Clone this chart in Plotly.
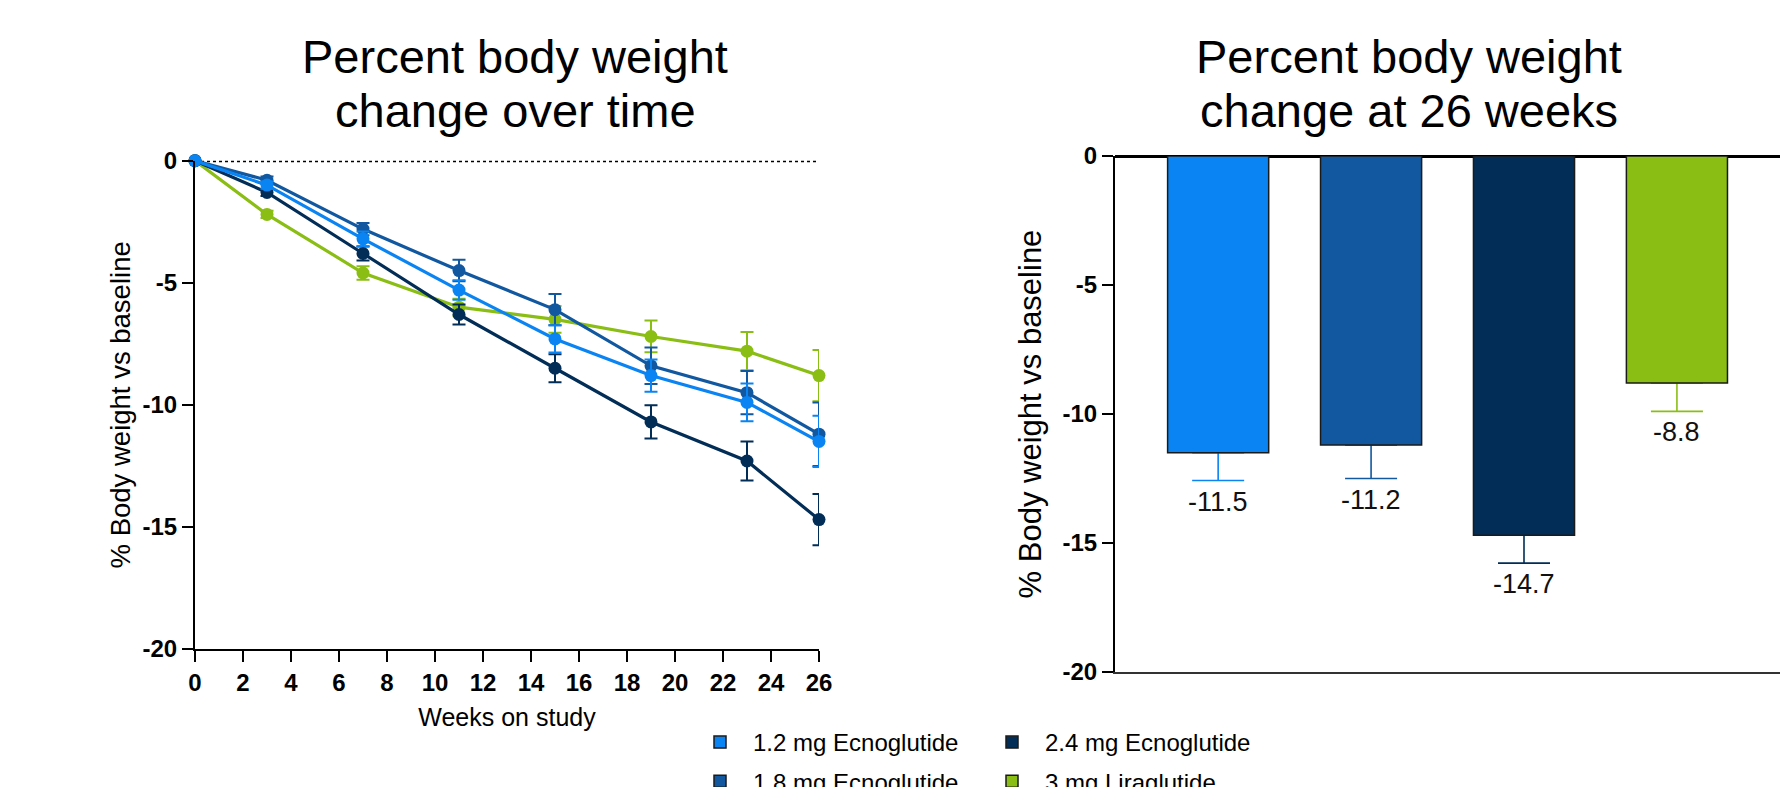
import plotly.graph_objects as go

# ---------------- data ----------------
weeks = [0, 3, 7, 11, 15, 19, 23, 26]

series_names = ["1.2 mg Ecnoglutide", "1.8 mg Ecnoglutide",
                "2.4 mg Ecnoglutide", "3 mg Liraglutide"]
series_colors = ["#0A84F2", "#1158A0", "#022D57", "#8ABE14"]

change_12 = [0, -1.0, -3.2, -5.3, -7.3, -8.8, -9.9, -11.5]
change_18 = [0, -0.8, -2.8, -4.5, -6.1, -8.4, -9.5, -11.2]
change_24 = [0, -1.3, -3.8, -6.3, -8.5, -10.7, -12.3, -14.7]
change_lira = [0, -2.2, -4.6, -6.0, -6.5, -7.2, -7.8, -8.8]

se_12 = [0, 0.15, 0.3, 0.4, 0.56, 0.66, 0.77, 1.05]
se_18 = [0, 0.15, 0.25, 0.44, 0.64, 0.75, 0.89, 1.3]
se_24 = [0, 0.15, 0.29, 0.41, 0.57, 0.68, 0.8, 1.05]
se_lira = [0, 0.15, 0.28, 0.35, 0.55, 0.65, 0.78, 1.05]

bar_means = [-11.5, -11.2, -14.7, -8.8]
bar_se = [1.08, 1.3, 1.08, 1.1]

x_tickvals = [0, 2, 4, 6, 8, 10, 12, 14, 16, 18, 20, 22, 24, 26]
y_tickvals = [0, -5, -10, -15, -20]
y_ticktext = ["0", "-5", "-10", "-15", "-20"]

title_left = ["Percent body weight", "change over time"]
title_right = ["Percent body weight", "change at 26 weeks"]

line_values = [change_12, change_18, change_24, change_lira]
line_errors = [se_12, se_18, se_24, se_lira]

FONT = "Liberation Sans, Arial, Helvetica, sans-serif"
W, H = 1780, 787

fig = go.Figure()

# ---------------- left: line chart ----------------
draw_order = [3, 2, 1, 0]  # green, navy, mid blue, light blue on top
for i in draw_order:
    fig.add_trace(go.Scatter(
        x=weeks, y=line_values[i], mode="lines+markers",
        name=series_names[i], legendgroup=series_names[i], showlegend=False,
        line=dict(color=series_colors[i], width=3.2),
        marker=dict(color=series_colors[i], size=13),
        error_y=dict(type="data", array=line_errors[i], color=series_colors[i],
                     thickness=2, width=6.5),
        cliponaxis=False, xaxis="x", yaxis="y",
    ))

# ---------------- right: bar chart ----------------
legend_of = ["legend", "legend", "legend2", "legend2"]
for i in range(4):
    # error bar drawn beneath its bar so the cap at the bar end is hidden
    fig.add_trace(go.Bar(
        x=[i], y=[bar_means[i]], width=0.661,
        marker=dict(color="rgba(0,0,0,0)", line=dict(width=0)),
        error_y=dict(type="data", symmetric=False, array=[0], arrayminus=[bar_se[i]],
                     color=series_colors[i], thickness=1.6, width=26),
        showlegend=False, hoverinfo="skip", xaxis="x2", yaxis="y2",
    ))
    fig.add_trace(go.Bar(
        x=[i], y=[bar_means[i]], width=0.661, name=series_names[i],
        legendgroup=series_names[i], legend=legend_of[i],
        marker=dict(color=series_colors[i], line=dict(color="#1a1a1a", width=1.5)),
        xaxis="x2", yaxis="y2",
    ))

# value labels under the error bars
for i in range(4):
    fig.add_annotation(
        x=i, y=bar_means[i] - bar_se[i], xref="x2", yref="y2",
        text=f"{bar_means[i]:.1f}", showarrow=False, yanchor="top", yshift=-4,
        font=dict(family=FONT, size=27, color="#111"),
    )

# dotted baseline on the line chart
fig.add_shape(type="line", xref="x", yref="y", x0=0, x1=26, y0=0, y1=0,
              line=dict(color="black", width=3, dash="3px,3px"), layer="below")

tickfont = dict(family=FONT, size=24, color="black", weight="bold")
legend_font = dict(family=FONT, size=24, color="black")

fig.update_layout(
    width=W, height=H,
    margin=dict(l=0, r=0, t=0, b=0, autoexpand=False),
    paper_bgcolor="white", plot_bgcolor="white",
    barmode="overlay",
    font=dict(family=FONT, color="black"),
    xaxis=dict(
        domain=[195 / W, 819 / W], range=[0, 26], anchor="y",
        tickvals=x_tickvals, ticks="outside", ticklen=11, tickwidth=2, tickcolor="black",
        showline=True, linewidth=2, linecolor="black", showgrid=False, zeroline=False,
        tickfont=tickfont,
        title=dict(text="Weeks on study", font=dict(family=FONT, size=25, color="black"),
                   standoff=14),
    ),
    yaxis=dict(
        domain=[1 - 649 / H, 1 - 160.7 / H], range=[-20, 0], anchor="x",
        tickvals=y_tickvals, ticktext=y_ticktext, ticks="outside", ticklen=11,
        tickwidth=2, tickcolor="black",
        showline=True, linewidth=2, linecolor="black", showgrid=False, zeroline=False,
        tickfont=tickfont,
        title=dict(text="% Body weight vs baseline",
                   font=dict(family=FONT, size=27.5, color="black"), standoff=4),
    ),
    xaxis2=dict(
        domain=[1115 / W, 1.0], range=[-0.6745, 3.674], anchor="y2",
        showticklabels=False, ticks="", showline=True, linewidth=2, linecolor="#333",
        showgrid=False, zeroline=False,
    ),
    yaxis2=dict(
        domain=[1 - 672 / H, 1 - 156 / H], range=[-20, 0], anchor="x2",
        tickvals=y_tickvals, ticktext=y_ticktext, ticks="outside", ticklen=11,
        tickwidth=2, tickcolor="black",
        showline=True, linewidth=2, linecolor="black", showgrid=False,
        zeroline=True, zerolinecolor="black", zerolinewidth=3,
        tickfont=tickfont,
        title=dict(text="% Body weight vs baseline",
                   font=dict(family=FONT, size=31, color="black"), standoff=12),
    ),
    legend=dict(x=687 / W, xanchor="left", y=1 - 720 / H, yanchor="top",
                traceorder="grouped", tracegroupgap=5, itemwidth=56,
                bgcolor="rgba(0,0,0,0)", font=legend_font),
    legend2=dict(x=979 / W, xanchor="left", y=1 - 720 / H, yanchor="top",
                 traceorder="grouped", tracegroupgap=5, itemwidth=56,
                 bgcolor="rgba(0,0,0,0)", font=legend_font),
)

# panel titles (one annotation per line)
title_font = dict(family=FONT, size=47, color="black")
line_y = [57, 110]
for k in range(2):
    fig.add_annotation(x=515 / W, y=1 - line_y[k] / H, xref="paper", yref="paper",
                       text=title_left[k], showarrow=False,
                       xanchor="center", yanchor="middle", font=title_font)
    fig.add_annotation(x=1409 / W, y=1 - line_y[k] / H, xref="paper", yref="paper",
                       text=title_right[k], showarrow=False,
                       xanchor="center", yanchor="middle", font=title_font)

fig.write_html("out.html", config={"displayModeBar": False},
               post_script="document.body.style.margin='0px';"
                           "document.body.style.overflow='hidden';")
